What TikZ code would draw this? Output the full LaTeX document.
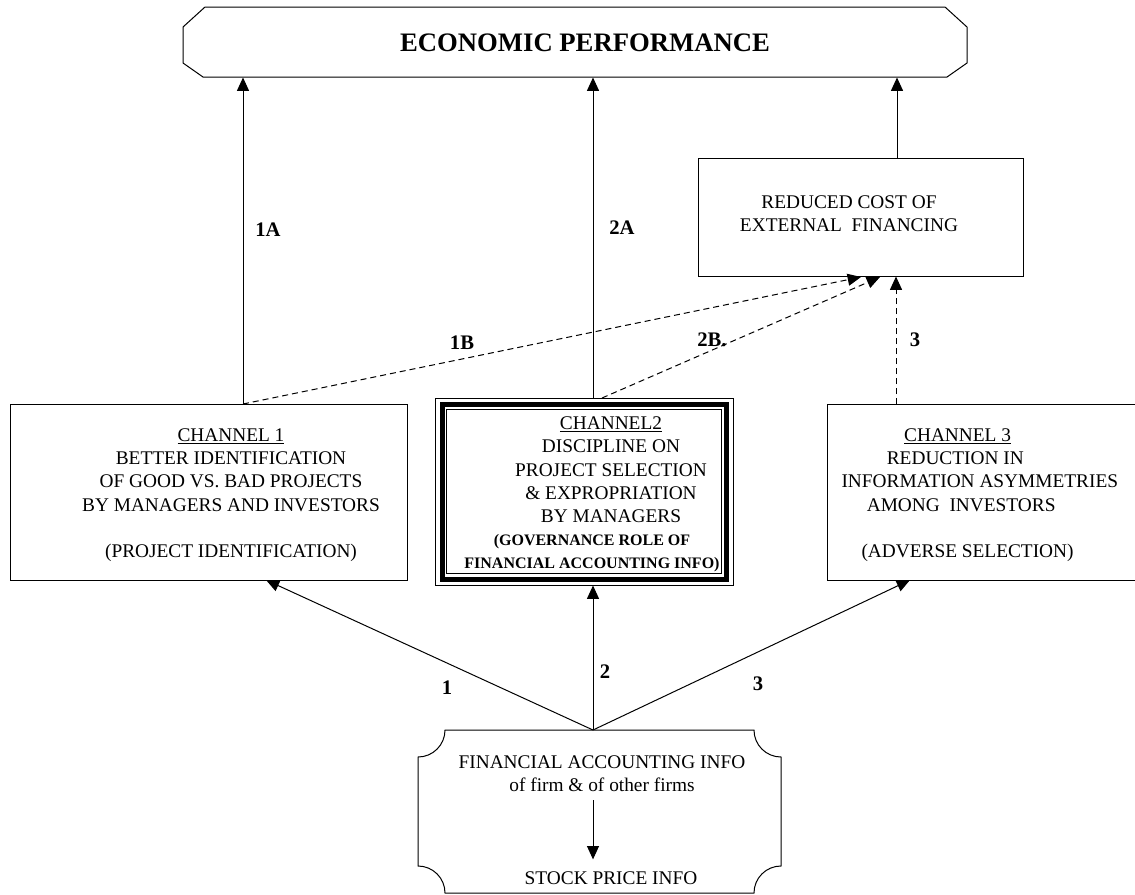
\documentclass[tikz,border=0pt]{standalone}
\usepackage{fontspec}
\setmainfont{Liberation Serif}
\usetikzlibrary{arrows.meta,fit}

\tikzset{every picture/.style={line width=0.75pt}}
\tikzset{
  box/.style={draw, inner sep=0pt},
  tip/.style={-{Triangle[length=10pt,width=9pt]}},
  dash link/.style={tip, dash pattern={on 4.5pt off 3pt}},
  txt/.style={inner sep=0.75pt, align=center, font=\fontsize{14.5}{17.5}\selectfont},
  lbl/.style={inner sep=0.75pt, font=\fontsize{15.5}{18}\selectfont\bfseries},
}

\begin{document}
\begin{tikzpicture}[x=0.75pt,y=0.75pt,yscale=-1,xscale=1]
	\useasboundingbox (0,0) rectangle (1135,894);
	
	%Shape: Chamfered box [economic performance]
	\draw (205,7) -- (945,7) -- (967,27) -- (967,63) -- (947,77) -- (203,77) -- (183,63) -- (183,27) -- cycle ;
	\node [fit={(183,7) (967,77)}, inner sep=0pt] (eco) {};
	%Shape: Rectangle [reduced cost]
	\node [box, fit={(698,158) (1023,276)}] (rc) {};
	%Shape: Rectangle [channel 1]
	\node [box, fit={(10,404) (407,580)}] (ch1) {};
	%Shape: Triple rectangle [channel 2]
	\node [box, fit={(435,398) (733,585)}] (ch2) {};
	\draw [line width=3.75pt] ([shift={(7.5,6.5)}]ch2.north west) rectangle ([shift={(-7.5,-6.5)}]ch2.south east) ;
	\draw ([shift={(12,12)}]ch2.north west) rectangle ([shift={(-12,-12)}]ch2.south east) ;
	%Shape: Rectangle [channel 3]
	\node [box, fit={(827,404) (1140,580)}] (ch3) {};
	%Shape: Scalloped box [accounting info]
	\draw (445,730) -- (754,730) arc (180:90:27) -- (781,866) arc (270:180:27) -- (445,893) arc (360:270:27) -- (418,757) arc (90:0:27) -- cycle ;
	
	% Connector ends
	\coordinate (src) at (593,730);
	\coordinate (in1) at (266,580);
	\coordinate (in3) at (910,580);
	\coordinate (out1) at (243,404);
	\coordinate (out2) at (593,398);
	\coordinate (out2b) at (602,398);
	\coordinate (out3) at (896,404);
	\coordinate (rcout) at (897,158);
	\coordinate (rc1) at (861,277);
	\coordinate (rc2) at (880,277);
	
	% Text Node
	\node [txt, font=\fontsize{20}{24}\selectfont\bfseries] (ecotxt) at (585,43) {ECONOMIC PERFORMANCE};
	% Text Node
	\node [txt] (rctxt) at (849,214) {REDUCED COST OF\\EXTERNAL\ \ FINANCING};
	% Text Node
	\node [txt] (ch1txt) at (231,495) {\underline{CHANNEL 1}\\BETTER IDENTIFICATION\\OF GOOD VS. BAD PROJECTS\\BY MANAGERS AND INVESTORS\\[17.5pt](PROJECT IDENTIFICATION)};
	% Text Node
	\node [txt] (ch2txt) at (611,470) {\underline{CHANNEL2}\\DISCIPLINE ON\\PROJECT SELECTION\\\&~EXPROPRIATION\\BY MANAGERS};
	% Text Node
	\node [txt, font=\fontsize{12}{17.5}\selectfont\bfseries] (ch2role) at (592,553) {(GOVERNANCE ROLE OF\\FINANCIAL ACCOUNTING INFO)};
	% Text Node
	\node [txt, align=left, anchor=west] (ch3txt) at (840,495) {\hspace*{47pt}\underline{CHANNEL 3}\\\hspace*{34pt}REDUCTION IN\\INFORMATION ASYMMETRIES\\\hspace*{19pt}AMONG\ \ INVESTORS\\[17.5pt]\hspace*{15pt}(ADVERSE SELECTION)};
	% Text Node
	\node [txt] (fintxt) at (602,774) {FINANCIAL ACCOUNTING INFO\\of firm \& of other firms};
	% Text Node
	\node [txt] (stock) at (611,878) {STOCK PRICE INFO};
	
	% Labels
	\node [lbl] (l1A) at (268,230) {1A};
	\node [lbl] (l2A) at (622,228) {2A};
	\node [lbl] (l1B) at (462,343) {1B};
	\node [lbl] (l2B) at (712,340) {2B.};
	\node [lbl] (l3B) at (915,340) {3};
	\node [lbl] (l1) at (447,688) {1};
	\node [lbl] (l2) at (605,672) {2};
	\node [lbl] (l3) at (758,684) {3};
	
	% Arrows
	\draw [tip] (out1) -- (out1 |- eco.south);
	\draw [tip] (out2) -- (out2 |- eco.south);
	\draw [tip] (rcout) -- (rcout |- eco.south);
	\draw [dash link] (out1) -- (rc1);
	\draw [dash link] (out2b) -- (rc2);
	\draw [dash link] (out3) -- (out3 |- rc.south);
	\draw [tip] (src) -- (in1);
	\draw [tip] (src) -- (src |- ch2.south);
	\draw [tip] (src) -- (in3);
	\draw [tip, shorten <=5pt, shorten >=8pt] (fintxt.south -| src) -- (stock.north -| src);
	
\end{tikzpicture}
\end{document}
